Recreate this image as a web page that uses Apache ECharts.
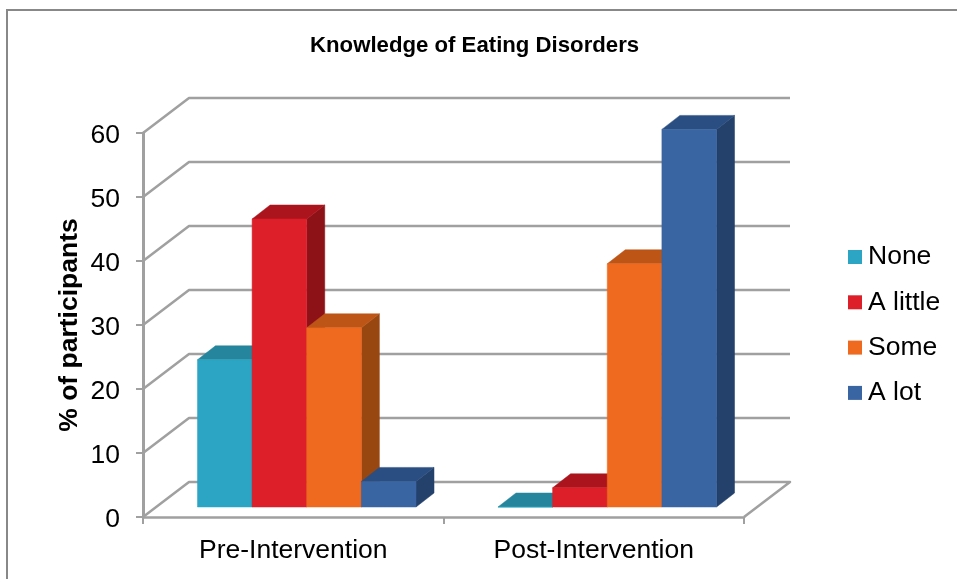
<!DOCTYPE html>
<html>
<head>
<meta charset="utf-8">
<style>html,body{margin:0;padding:0;background:#fff}#chart{width:957px;height:579px}</style>
<script src="https://cdn.jsdelivr.net/npm/echarts@6/dist/echarts.min.js"></script>
</head>
<body>
<div id="chart"></div>
<script>
// Knowledge of eating disorders, before and after the intervention (% of participants)
const categories = ['Pre-Intervention', 'Post-Intervention'];
const yTicks = [0, 10, 20, 30, 40, 50, 60];
const none = [23, 0];
const aLittle = [45, 3];
const some = [28, 38];
const aLot = [4, 59];
const seriesNames = ['None', 'A little', 'Some', 'A lot'];
const seriesValues = [none, aLittle, some, aLot];

// front, top and side face shades per series
const shades = [
  { front: '#2ba5c3', top: '#25859c', side: '#1f7286' },
  { front: '#dd1f29', top: '#ab141c', side: '#8c1218' },
  { front: '#ef691e', top: '#bd5516', side: '#994711' },
  { front: '#3a65a3', top: '#2a4e81', side: '#23416b' }
];

const FONT = '"Liberation Sans", Arial, sans-serif';
const LABEL_SIZE = 26.5;
const GAP_WIDTH = 1.5;              // gap between clusters, in bar widths
const WALL = { dx: 46, dy: -35 };   // oblique offset from floor front to back wall
const BAR_FRONT = { dx: 13.5, dy: -10 };
const BAR_DEPTH = { dx: 18, dy: -14 };
const GRID_COLOR = '#a0a0a0';

function renderWalls(params, api) {
  const cs = params.coordSys;
  const y = api.coord([0, api.value(0)])[1];
  const left = cs.x, right = cs.x + cs.width;
  const lineStyle = { stroke: GRID_COLOR, lineWidth: 2.5, fill: null, lineJoin: 'round' };
  const pts = [[left, y], [left + WALL.dx, y + WALL.dy], [right + WALL.dx, y + WALL.dy]];
  if (api.value(0) === 0) {
    pts.push([right, y]);   // floor's right edge
  }
  return { type: 'polyline', shape: { points: pts }, style: lineStyle, silent: true };
}

function makeBarRenderer(seriesIndex) {
  return function (params, api) {
    const cat = api.value(0);
    const val = api.value(1);
    const band = api.size([1, 0])[0];
    const barW = band / (seriesValues.length + GAP_WIDTH);
    const base = api.coord([cat, 0]);
    const top = api.coord([cat, val]);
    const x0 = base[0] - barW * seriesValues.length / 2 + barW * seriesIndex + BAR_FRONT.dx;
    const x1 = x0 + barW;
    const yB = base[1] + BAR_FRONT.dy;
    const yT = top[1] + BAR_FRONT.dy;
    const dx = BAR_DEPTH.dx, dy = BAR_DEPTH.dy;
    const c = shades[seriesIndex];
    const poly = (points, fill) => ({
      type: 'polygon', shape: { points }, style: { fill, stroke: fill, lineWidth: 0.5 }
    });
    return {
      type: 'group',
      children: [
        poly([[x1, yB], [x1 + dx, yB + dy], [x1 + dx, yT + dy], [x1, yT]], c.side),
        poly([[x0, yT], [x1, yT], [x1 + dx, yT + dy], [x0 + dx, yT + dy]], c.top),
        poly([[x0, yB], [x1, yB], [x1, yT], [x0, yT]], c.front)
      ]
    };
  };
}

const chart = echarts.init(document.getElementById('chart'), null, { renderer: 'canvas' });
chart.setOption({
  animation: false,
  backgroundColor: '#ffffff',
  title: {
    text: 'Knowledge of Eating Disorders',
    left: 305, top: 30,
    textStyle: { fontFamily: FONT, fontSize: 22.2, fontWeight: 'bold', color: '#000' }
  },
  // chart frame: only its top and left edges fall inside the page
  graphic: [{
    type: 'polyline',
    shape: { points: [[7, 579], [7, 10], [957, 10]] },
    style: { fill: null, stroke: '#888888', lineWidth: 2 },
    silent: true
  }],
  legend: {
    orient: 'vertical',
    left: 843, top: 238.5,
    data: seriesNames,
    icon: 'rect',
    itemWidth: 14, itemHeight: 14, itemGap: 18.3,
    selectedMode: false,
    textStyle: { fontFamily: FONT, fontSize: LABEL_SIZE, color: '#000', padding: [0, 0, 0, 1] }
  },
  grid: { left: 143, right: 213, top: 133, bottom: 62 },
  xAxis: {
    type: 'category',
    data: categories,
    axisLine: { lineStyle: { color: GRID_COLOR, width: 2.5 } },
    axisTick: { show: true, length: 7, lineStyle: { color: GRID_COLOR, width: 2 } },
    axisLabel: { fontFamily: FONT, fontSize: LABEL_SIZE, color: '#000', margin: 20 },
    splitLine: { show: false }
  },
  yAxis: {
    type: 'value',
    min: 0, max: 60, interval: 10,
    name: '% of participants',
    nameLocation: 'middle',
    nameRotate: 90,
    nameGap: 60,
    nameMoveOverlap: false,
    nameTextStyle: { fontFamily: FONT, fontSize: LABEL_SIZE, fontWeight: 'bold', color: '#000' },
    axisLine: { show: true, lineStyle: { color: GRID_COLOR, width: 3 } },
    axisTick: { show: true, length: 7, lineStyle: { color: GRID_COLOR, width: 2 } },
    axisLabel: {
      fontFamily: FONT, fontSize: LABEL_SIZE, color: '#000', margin: 23,
      verticalAlign: 'top', lineHeight: 6
    },
    splitLine: { show: false }
  },
  series: [{
    type: 'custom',
    name: 'walls',
    coordinateSystem: 'cartesian2d',
    silent: true,
    data: yTicks.map(t => [t]),
    encode: { y: 0 },
    renderItem: renderWalls,
    z: 1
  }].concat(seriesNames.map((name, i) => ({
    type: 'custom',
    name,
    coordinateSystem: 'cartesian2d',
    itemStyle: { color: shades[i].front },
    data: seriesValues[i].map((v, c) => [c, v]),
    encode: { x: 0, y: 1 },
    renderItem: makeBarRenderer(i),
    z: 2 + i
  })))
});
</script>
</body>
</html>
